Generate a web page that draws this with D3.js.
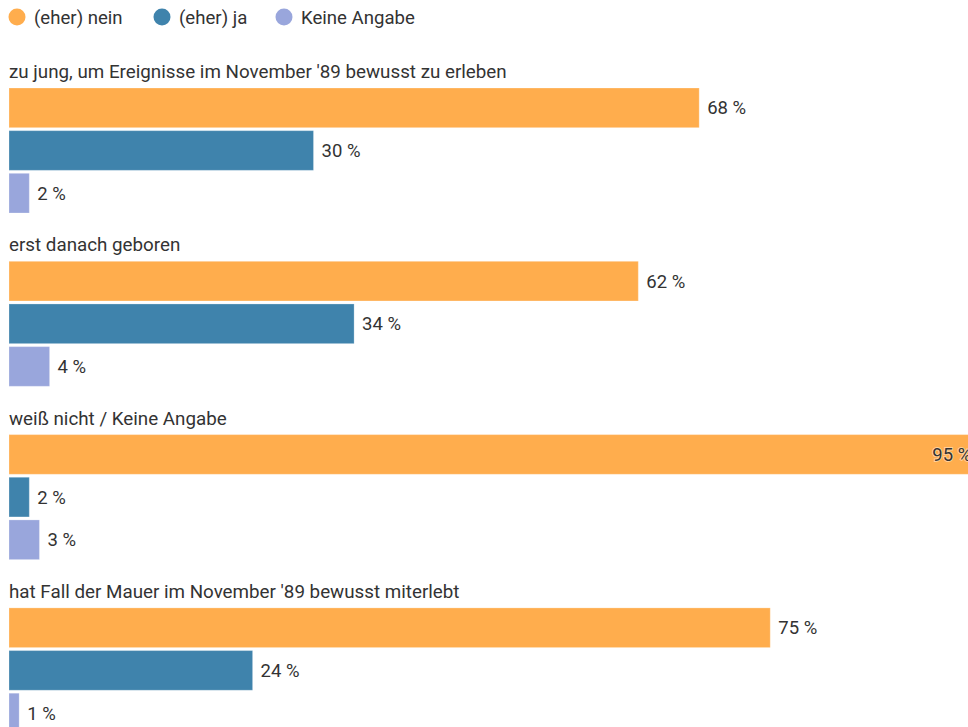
<!DOCTYPE html>
<html>
<head>
<meta charset="utf-8">
<script src="https://cdn.jsdelivr.net/npm/d3@7"></script>
<style>
  html, body { margin: 0; padding: 0; background: #fff; overflow: hidden; }
  svg { display: block; font-family: Roboto, "Noto Sans", sans-serif; }
</style>
</head>
<body>
<svg id="chart" width="968" height="727"></svg>
<script>
// Survey groups and the share of each answer
const groups = [
  "zu jung, um Ereignisse im November '89 bewusst zu erleben",
  "erst danach geboren",
  "weiß nicht / Keine Angabe",
  "hat Fall der Mauer im November '89 bewusst miterlebt"
];
const answers = ["(eher) nein", "(eher) ja", "Keine Angabe"];
const neinValues = [68, 62, 95, 75];
const jaValues = [30, 34, 2, 24];
const keineValues = [2, 4, 3, 1];
const colors = ["#ffad4d", "#3f83ac", "#99a6dc"];

const width = 968, height = 727;
const svg = d3.select("#chart");
const textColor = "#333";

const seriesValues = [neinValues, jaValues, keineValues];

const x = d3.scaleLinear().domain([0, 100]).range([9, 9 + 1015]);
const groupY = d3.scaleBand().domain(groups).range([88, 88 + 173.3 * groups.length]).paddingInner(0).paddingOuter(0);
const barY = d3.scaleBand().domain(answers).range([0, 125]).paddingInner(0.07).paddingOuter(0);
const color = d3.scaleOrdinal().domain(answers).range(colors);

// Legend
const legend = svg.append("g").attr("class", "legend");
const legendX = [17, 162, 284];
answers.forEach((a, i) => {
  const g = legend.append("g").attr("transform", `translate(${legendX[i]},17)`);
  g.append("circle").attr("r", 8.5).attr("fill", color(a));
  g.append("text").attr("x", 17).attr("y", 7).attr("font-size", 18.6).attr("fill", textColor).text(a);
});

// Groups
const rows = groups.map((g, gi) => ({
  name: g,
  bars: answers.map((a, ai) => ({ answer: a, value: seriesValues[ai][gi] }))
}));

const gSel = svg.selectAll("g.group").data(rows).join("g")
  .attr("class", "group")
  .attr("transform", d => `translate(0,${groupY(d.name)})`);

gSel.append("text")
  .attr("x", 9).attr("y", -10)
  .attr("font-size", 18.8).attr("fill", textColor)
  .text(d => d.name);

const barG = gSel.selectAll("g.bar").data(d => d.bars).join("g").attr("class", "bar");

barG.append("rect")
  .attr("x", x(0))
  .attr("y", d => barY(d.answer))
  .attr("width", d => x(d.value) - x(0))
  .attr("height", barY.bandwidth())
  .attr("fill", d => color(d.answer))
  .attr("stroke", "rgba(255,255,255,0.25)")
  .attr("stroke-width", 1);

barG.append("text")
  .attr("y", d => barY(d.answer) + barY.bandwidth() / 2)
  .attr("dy", "0.35em")
  .attr("font-size", 18.5)
  .attr("fill", textColor)
  .text(d => `${d.value} %`)
  .each(function(d) {
    const t = d3.select(this);
    const w = this.getComputedTextLength();
    const end = x(d.value);
    if (end + 8 + w > width) {
      // not enough room to the right: place inside the bar end
      t.attr("x", end - 2).attr("text-anchor", "end")
        .attr("stroke", "rgba(255,255,255,0.45)").attr("stroke-width", 2)
        .attr("paint-order", "stroke");
    } else {
      t.attr("x", end + 8);
    }
  });
</script>
</body>
</html>
